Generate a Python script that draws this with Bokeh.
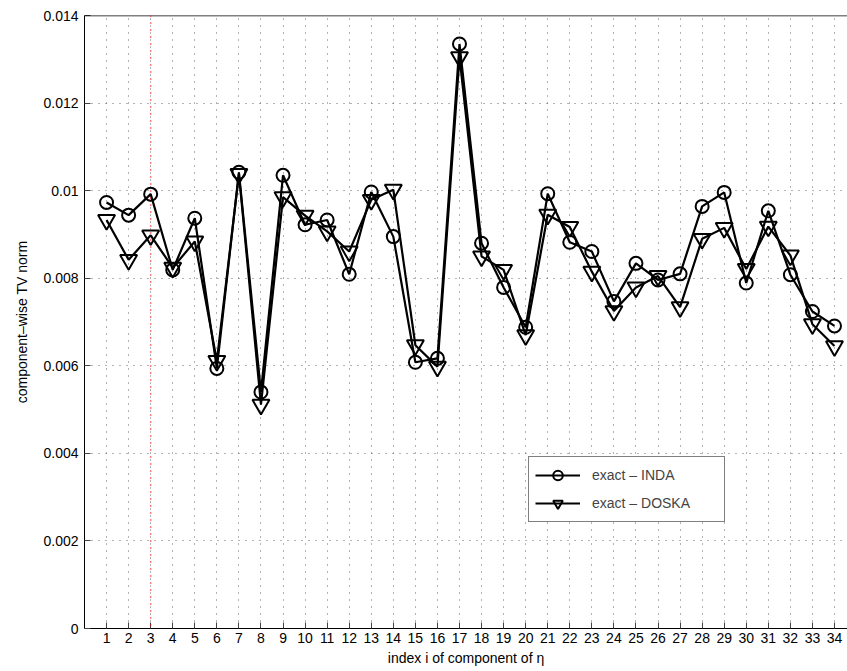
from bokeh.plotting import figure
from bokeh.models import (FixedTicker, Span, Legend, LegendItem,
                          ColumnDataSource, Range1d)
from bokeh.embed import file_html
from bokeh.resources import INLINE

# ---- data ----
idx = list(range(1, 35))
inda = [0.00973, 0.00944, 0.00992, 0.00819, 0.00937, 0.00594, 0.01042, 0.00540,
        0.01035, 0.00922, 0.00933, 0.00809, 0.00997, 0.00895, 0.00608, 0.00617,
        0.01335, 0.00880, 0.00779, 0.00688, 0.00993, 0.00882, 0.00861, 0.00747,
        0.00834, 0.00796, 0.00810, 0.00964, 0.00996, 0.00789, 0.00954, 0.00808,
        0.00724, 0.00691]
doska = [0.00933, 0.00842, 0.00898, 0.00824, 0.00884, 0.00611, 0.01038, 0.00511,
         0.00985, 0.00943, 0.00907, 0.00861, 0.00979, 0.01002, 0.00647, 0.00598,
         0.01305, 0.00850, 0.00819, 0.00670, 0.00945, 0.00917, 0.00815, 0.00725,
         0.00779, 0.00805, 0.00734, 0.00890, 0.00915, 0.00821, 0.00918, 0.00852,
         0.00695, 0.00645]
y_ticks = [0, 0.002, 0.004, 0.006, 0.008, 0.010, 0.012, 0.014]
y_tick_labels = ["0", "0.002", "0.004", "0.006", "0.008", "0.01", "0.012", "0.014"]
x_ticks = idx
highlight_index = 3
series_names = ["exact \u2013 INDA", "exact \u2013 DOSKA"]

FONT = "Liberation Sans"

p = figure(width=847, height=671, output_backend="svg", toolbar_location=None,
           x_range=Range1d(0, 34.59), y_range=Range1d(0, 0.014),
           min_border_left=84, min_border_right=0, min_border_top=15,
           min_border_bottom=43)
p.outline_line_color = None
p.background_fill_color = "white"
p.border_fill_color = "white"

# axes
p.xaxis.ticker = FixedTicker(ticks=x_ticks)
p.yaxis.ticker = FixedTicker(ticks=y_ticks)
p.yaxis.major_label_overrides = {t: l for t, l in zip(y_ticks, y_tick_labels)}
for ax in (p.xaxis[0], p.yaxis[0]):
    ax.major_tick_in = 6
    ax.major_tick_out = 0
    ax.minor_tick_in = 0
    ax.minor_tick_out = 0
    ax.axis_line_color = "black"
    ax.axis_line_width = 1
    ax.major_tick_line_color = "#444444"
    ax.major_label_text_font = FONT
    ax.major_label_text_font_size = "14px"
    ax.major_label_text_color = "black"
    ax.axis_label_text_font = FONT
    ax.axis_label_text_font_size = "14px"
    ax.axis_label_text_font_style = "normal"
    ax.axis_label_text_color = "black"
p.xaxis.axis_label = "index i of component of \u03b7"
p.yaxis.axis_label = "component\u2013wise TV norm"
p.xaxis.major_label_standoff = 4
p.xaxis.axis_label_standoff = 4
p.yaxis.major_label_standoff = 6
p.yaxis.axis_label_standoff = 10

# top border of the box
p.add_layout(Span(location=0.014, dimension="width", line_color="black",
                  line_width=1.5))

# grids
p.xgrid.ticker = FixedTicker(ticks=x_ticks)
p.ygrid.ticker = FixedTicker(ticks=y_ticks)
for g in (p.xgrid[0], p.ygrid[0]):
    g.grid_line_color = "#666666"
    g.grid_line_dash = "1 6"
    g.grid_line_width = 1

p.add_layout(Span(location=highlight_index, dimension="height", line_color="red",
                  line_dash="1 6", line_width=1.5))

src = ColumnDataSource(dict(x=idx, inda=inda, doska=doska))
l1 = p.line("x", "inda", source=src, line_color="black", line_width=2.2)
m1 = p.scatter("x", "inda", source=src, marker="circle", size=13,
               fill_color=None, line_color="black", line_width=2)
l2 = p.line("x", "doska", source=src, line_color="black", line_width=2.2)
m2 = p.scatter("x", "doska", source=src, marker="inverted_triangle", size=17,
               fill_color=None, line_color="black", line_width=2)

legend = Legend(items=[LegendItem(label=series_names[0], renderers=[l1, m1]),
                       LegendItem(label=series_names[1], renderers=[l2, m2])],
                location=(444, 106), glyph_width=45, glyph_height=24,
                label_standoff=12, padding=6, spacing=4, margin=0,
                label_width=126, label_text_font=FONT,
                label_text_font_size="14px", border_line_color="black",
                border_line_width=1, background_fill_color="white",
                background_fill_alpha=1)
p.add_layout(legend, "center")

open("out.html", "w").write(file_html(p, INLINE))
